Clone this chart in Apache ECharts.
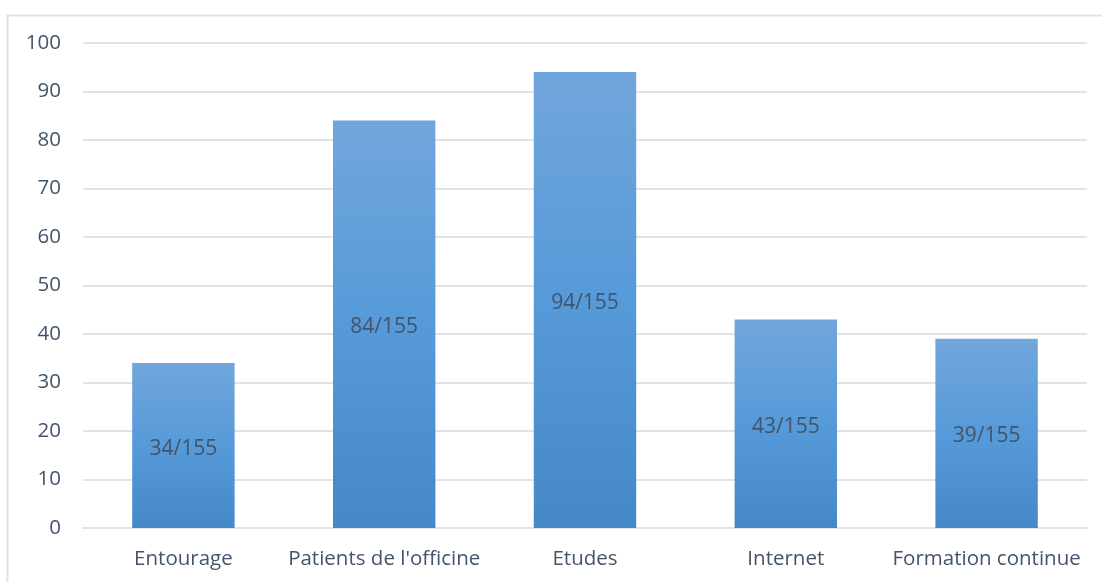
<!DOCTYPE html>
<html>
<head>
<meta charset="utf-8">
<script src="https://cdn.jsdelivr.net/npm/echarts@6/dist/echarts.min.js"></script>
<style>
  html, body { margin: 0; padding: 0; background: #fff; }
  #chart { width: 1102px; height: 582px; }
</style>
</head>
<body>
<div id="chart"></div>
<script>
var categories = ["Entourage", "Patients de l'officine", "Etudes", "Internet", "Formation continue"];
var values = [34, 84, 94, 43, 39];
var labels = ["34/155", "84/155", "94/155", "43/155", "39/155"];

var myChart = echarts.init(document.getElementById("chart"));
myChart.setOption({
  animation: false,
  textStyle: { fontFamily: "Open Sans" },
  graphic: [
    {
      type: "polyline",
      shape: { points: [[7.5, 600], [7.5, 15.5], [1110, 15.5]] },
      style: { stroke: "#dde3ea", lineWidth: 2, fill: null },
      silent: true,
    },
  ],
  grid: { left: 83, right: 15, top: 43, bottom: 54 },
  xAxis: {
    type: "category",
    data: categories,
    axisLine: { show: true, lineStyle: { color: "#dfe3ea", width: 2 } },
    axisTick: { show: false },
    axisLabel: { color: "#44546a", fontSize: 20.5, margin: 21, interval: 0 },
  },
  yAxis: {
    type: "value",
    min: 0,
    max: 100,
    interval: 10,
    axisLine: { show: false },
    axisTick: { show: false },
    axisLabel: { color: "#44546a", fontSize: 20.5, margin: 22 },
    splitLine: { lineStyle: { color: "#dfe3ea", width: 2 } },
  },
  series: [
    {
      type: "bar",
      data: values,
      barWidth: "51%",
      itemStyle: {
        color: new echarts.graphic.LinearGradient(0, 0, 0, 1, [
          { offset: 0, color: "#71a6dc" },
          { offset: 0.5, color: "#569ad9" },
          { offset: 1, color: "#4488c8" },
        ]),
      },
      label: {
        show: true,
        position: "inside",
        offset: [0, 3],
        color: "#44546a",
        fontSize: 21,
        formatter: function (p) {
          return labels[p.dataIndex];
        },
      },
    },
  ],
});
window.addEventListener("resize", function () {
  myChart.resize();
});
</script>
</body>
</html>
